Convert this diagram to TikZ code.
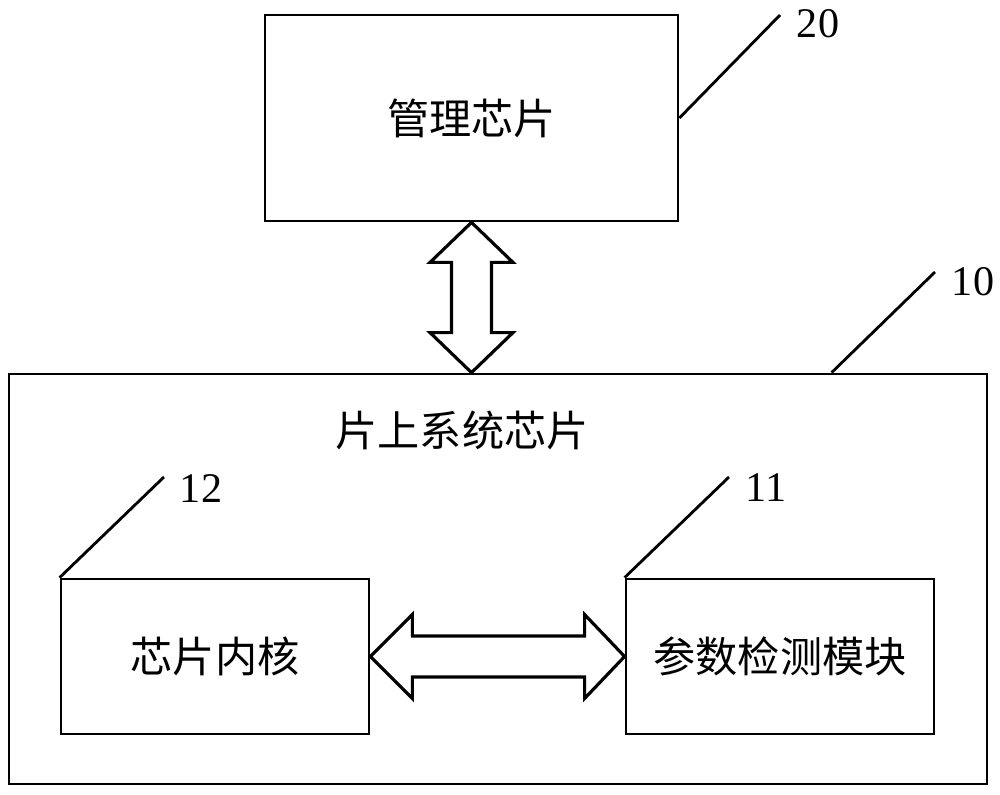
\documentclass[tikz,border=0pt]{standalone}
\usepackage{fontspec}
\setmainfont{Liberation Serif}
\newfontfamily\cjk{Noto Sans CJK SC}
\usetikzlibrary{calc}
\begin{document}
\begin{tikzpicture}[
        x=0.2mm, y=-0.2mm,
        box/.style={rectangle, draw, line width=1.6pt, inner sep=0pt},
        label/.style={font=\cjk\fontsize{24}{28}\selectfont},
        refnum/.style={font=\fontsize{24}{28}\selectfont},
        leader/.style={line width=1.6pt},
        bigarrow/.style={line width=1.8pt, line join=miter, fill=white}
    ]
        \useasboundingbox (0,0) rectangle (1000,795);

        % Boxes
        \node[box, minimum width=82.6mm, minimum height=41.2mm] (mgmt) at (471.5,118) {};
        \node[label] at (mgmt.center) {管理芯片};
        \node[box, minimum width=195.6mm, minimum height=82mm] (soc) at (498,579) {};
        \node[label] (soctext) at (462,430) {片上系统芯片};
        \node[box, minimum width=61.6mm, minimum height=31mm] (core) at (215,656.5) {};
        \node[label] at (core.center) {芯片内核};
        \node[box, minimum width=61.6mm, minimum height=31mm] (param) at (780,656.5) {};
        \node[label] at (param.center) {参数检测模块};

        % Reference numbers
        \coordinate (l20) at (780,15);
        \coordinate (l10) at (935,272);
        \coordinate (l12) at (164,477);
        \coordinate (l11) at (729,477);
        \draw[leader] (mgmt.east) -- (l20);
        \draw[leader] ($(soc.north west)+(824,0)$) -- (l10);
        \draw[leader] (core.north west) -- (l12);
        \draw[leader] (param.north west) -- (l11);
        \node[refnum] at (818,24) {20};
        \node[refnum] at (973,282) {10};
        \node[refnum] at (201,489) {12};
        \node[refnum] at (766,488) {11};

        % Double arrows
        \coordinate (vt) at (mgmt.south);
        \coordinate (vb) at (mgmt.south |- soc.north);
        \draw[bigarrow] (vt) -- ++(41.5,40) -- ++(-21.5,0) -- ($(vb)+(20,-40)$) -- ++(21.5,0)
            -- (vb) -- ++(-41.5,-40) -- ++(21.5,0) -- ($(vt)+(-20,40)$) -- ++(-21.5,0) -- cycle;
        \coordinate (hl) at (core.east);
        \coordinate (hr) at (param.west);
        \draw[bigarrow] (hl) -- ++(42,-42) -- ++(0,21.5) -- ($(hr)+(-40,-20.5)$) -- ++(0,-21.5)
            -- (hr) -- ++(-40,42) -- ++(0,-21.5) -- ($(hl)+(42,20.5)$) -- ++(0,21.5) -- cycle;
    \end{tikzpicture}
\end{document}
